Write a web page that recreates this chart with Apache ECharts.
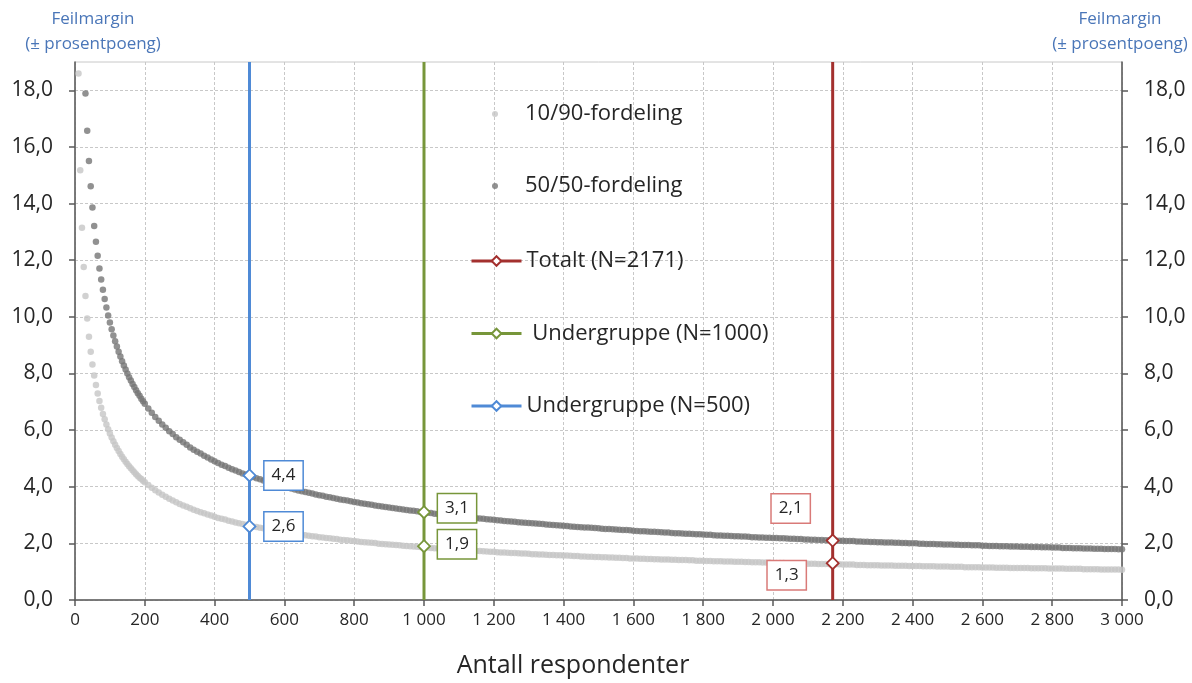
<!DOCTYPE html>
<html><head><meta charset="utf-8">
<script src="https://cdn.jsdelivr.net/npm/echarts@6/dist/echarts.min.js"></script>
<style>html,body{margin:0;padding:0;background:#fff}#c{width:1192px;height:683px}</style>
</head><body><div id="c"></div>
<script>
// Number of respondents grid: small n (5..200 step 5), large n (210..3000 step 10)
const smallStart = 5, smallStep = 5;
const largeStart = 210, largeStep = 10;

// 10/90-fordeling, margin of error (percentage points)
const tenNinetySmall = [26.30,18.59,15.18,13.15,11.76,10.74,9.94,9.30,8.77,8.32,7.93,7.59,7.29,7.03,6.79,6.57,6.38,6.20,6.03,5.88,
5.74,5.61,5.48,5.37,5.26,5.16,5.06,4.97,4.88,4.80,4.72,4.65,4.58,4.51,4.44,4.38,4.32,4.27,4.21,4.16];
const tenNinetyLarge = [
4.06,3.96,3.88,3.80,3.72,3.65,3.58,3.51,3.45,3.39,
3.34,3.29,3.24,3.19,3.14,3.10,3.06,3.02,2.98,2.94,
2.90,2.87,2.84,2.80,2.77,2.74,2.71,2.68,2.66,2.63,
2.60,2.58,2.55,2.53,2.51,2.48,2.46,2.44,2.42,2.40,
2.38,2.36,2.34,2.32,2.31,2.29,2.27,2.25,2.24,2.22,
2.21,2.19,2.18,2.16,2.15,2.13,2.12,2.11,2.09,2.08,
2.07,2.05,2.04,2.03,2.02,2.01,1.99,1.98,1.97,1.96,
1.95,1.94,1.93,1.92,1.91,1.90,1.89,1.88,1.87,1.86,
1.85,1.84,1.83,1.82,1.81,1.81,1.80,1.79,1.78,1.77,
1.76,1.76,1.75,1.74,1.73,1.73,1.72,1.71,1.70,1.70,
1.69,1.68,1.68,1.67,1.66,1.66,1.65,1.64,1.64,1.63,
1.62,1.62,1.61,1.61,1.60,1.59,1.59,1.58,1.58,1.57,
1.57,1.56,1.55,1.55,1.54,1.54,1.53,1.53,1.52,1.52,
1.51,1.51,1.50,1.50,1.49,1.49,1.48,1.48,1.47,1.47,
1.47,1.46,1.46,1.45,1.45,1.44,1.44,1.43,1.43,1.43,
1.42,1.42,1.41,1.41,1.41,1.40,1.40,1.39,1.39,1.39,
1.38,1.38,1.37,1.37,1.37,1.36,1.36,1.36,1.35,1.35,
1.35,1.34,1.34,1.33,1.33,1.33,1.32,1.32,1.32,1.31,
1.31,1.31,1.31,1.30,1.30,1.30,1.29,1.29,1.29,1.28,
1.28,1.28,1.27,1.27,1.27,1.27,1.26,1.26,1.26,1.25,
1.25,1.25,1.25,1.24,1.24,1.24,1.23,1.23,1.23,1.23,
1.22,1.22,1.22,1.22,1.21,1.21,1.21,1.21,1.20,1.20,
1.20,1.20,1.19,1.19,1.19,1.19,1.18,1.18,1.18,1.18,
1.17,1.17,1.17,1.17,1.16,1.16,1.16,1.16,1.16,1.15,
1.15,1.15,1.15,1.14,1.14,1.14,1.14,1.13,1.13,1.13,
1.13,1.13,1.13,1.12,1.12,1.12,1.12,1.12,1.11,1.11,
1.11,1.11,1.11,1.10,1.10,1.10,1.10,1.10,1.09,1.09,
1.09,1.09,1.09,1.08,1.08,1.08,1.08,1.08,1.08,1.07];

// 50/50-fordeling, margin of error (percentage points)
const fiftyFiftySmall = [43.83,30.99,25.30,21.91,19.60,17.89,16.57,15.50,14.61,13.86,13.21,12.65,12.16,11.71,11.32,10.96,10.63,10.33,10.05,9.80,
9.56,9.34,9.14,8.95,8.77,8.60,8.43,8.28,8.14,8.00,7.87,7.75,7.63,7.52,7.41,7.30,7.21,7.11,7.02,6.93];
const fiftyFiftyLarge = [
6.76,6.61,6.46,6.33,6.20,6.08,5.96,5.86,5.75,5.66,
5.57,5.48,5.39,5.31,5.24,5.17,5.09,5.03,4.96,4.90,
4.84,4.78,4.73,4.67,4.62,4.57,4.52,4.47,4.43,4.38,
4.34,4.30,4.26,4.22,4.18,4.14,4.10,4.07,4.03,4.00,
3.97,3.94,3.90,3.87,3.84,3.81,3.79,3.76,3.73,3.70,
3.68,3.65,3.63,3.60,3.58,3.55,3.53,3.51,3.49,3.46,
3.44,3.42,3.40,3.38,3.36,3.34,3.32,3.30,3.28,3.27,
3.25,3.23,3.21,3.20,3.18,3.16,3.15,3.13,3.11,3.10,
3.08,3.07,3.05,3.04,3.02,3.01,3.00,2.98,2.97,2.95,
2.94,2.93,2.92,2.90,2.89,2.88,2.87,2.85,2.84,2.83,
2.82,2.81,2.79,2.78,2.77,2.76,2.75,2.74,2.73,2.72,
2.71,2.70,2.69,2.68,2.67,2.66,2.65,2.64,2.63,2.62,
2.61,2.60,2.59,2.58,2.57,2.56,2.56,2.55,2.54,2.53,
2.52,2.51,2.51,2.50,2.49,2.48,2.47,2.47,2.46,2.45,
2.44,2.43,2.43,2.42,2.41,2.41,2.40,2.39,2.38,2.38,
2.37,2.36,2.36,2.35,2.34,2.34,2.33,2.32,2.32,2.31,
2.30,2.30,2.29,2.28,2.28,2.27,2.27,2.26,2.25,2.25,
2.24,2.24,2.23,2.22,2.22,2.21,2.21,2.20,2.20,2.19,
2.19,2.18,2.18,2.17,2.16,2.16,2.15,2.15,2.14,2.14,
2.13,2.13,2.12,2.12,2.11,2.11,2.10,2.10,2.09,2.09,
2.08,2.08,2.08,2.07,2.07,2.06,2.06,2.05,2.05,2.04,
2.04,2.03,2.03,2.03,2.02,2.02,2.01,2.01,2.00,2.00,
2.00,1.99,1.99,1.98,1.98,1.98,1.97,1.97,1.96,1.96,
1.96,1.95,1.95,1.94,1.94,1.94,1.93,1.93,1.93,1.92,
1.92,1.91,1.91,1.91,1.90,1.90,1.90,1.89,1.89,1.89,
1.88,1.88,1.88,1.87,1.87,1.87,1.86,1.86,1.86,1.85,
1.85,1.85,1.84,1.84,1.84,1.83,1.83,1.83,1.82,1.82,
1.82,1.81,1.81,1.81,1.80,1.80,1.80,1.80,1.79,1.79];

// Reference groups
const groupNames = ['Totalt (N=2171)', 'Undergruppe (N=1000)', 'Undergruppe (N=500)'];
const groupN = [2171, 1000, 500];
const groupMargin5050 = [2.1, 3.1, 4.4];
const groupMargin1090 = [1.3, 1.9, 2.6];

// Axis ticks
const yTicks = [0, 2, 4, 6, 8, 10, 12, 14, 16, 18];
const yMax = 19;
const xMax = 3000;
const xInterval = 200;

// ---------- build ----------
const toPts = (vals, start, step) => vals.map((v, i) => [start + i * step, v]);
const tenNinety = toPts(tenNinetySmall, smallStart, smallStep).concat(toPts(tenNinetyLarge, largeStart, largeStep));
const fiftyFifty = toPts(fiftyFiftySmall, smallStart, smallStep).concat(toPts(fiftyFiftyLarge, largeStart, largeStep));

const FONT = '"Open Sans", sans-serif';
const TXT = '#262626';
const fmtNo = v => Number(v).toFixed(1).replace('.', ',');
const fmtX = v => v >= 1000 ? Math.floor(v / 1000) + ' ' + String(v % 1000).padStart(3, '0') : String(v);

const groupColors = ['#a3302e', '#77963a', '#4f8ad6'];
const labelBorders = ['#d97a78', '#77963a', '#4f8ad6'];
// label offsets [5050 label, 1090 label]
const labelOffsets = [[[-42, -32], [-46, 12]], [[33, -4], [33, -2]], [[34, 0], [34, 0]]];

const groupSeries = groupNames.map((name, g) => {
  const mkLabel = (off) => ({
    show: true, position: 'inside', offset: off,
    formatter: p => fmtNo(p.value[1]),
    color: TXT, fontSize: 17, fontFamily: FONT,
    backgroundColor: '#fff', borderColor: labelBorders[g], borderWidth: 1.5,
    padding: [6, 7, 5, 7]
  });
  return {
    name, type: 'line', z: 4,
    symbol: 'diamond', symbolSize: 12, showSymbol: true,
    itemStyle: { color: '#fff', borderColor: groupColors[g], borderWidth: 1.8 },
    lineStyle: { color: groupColors[g], width: 3 },
    emphasis: { disabled: true },
    data: [
      { value: [groupN[g], 0], symbol: 'none' },
      { value: [groupN[g], groupMargin1090[g]], label: mkLabel(labelOffsets[g][1]) },
      { value: [groupN[g], groupMargin5050[g]], label: mkLabel(labelOffsets[g][0]) },
      { value: [groupN[g], yMax], symbol: 'none' }
    ]
  };
});

const yAxisBase = {
  type: 'value', min: 0, max: yMax,
  axisLine: { show: true, lineStyle: { color: '#595959', width: 1.5 } },
  axisTick: { show: true, length: 6, customValues: yTicks, lineStyle: { color: '#595959', width: 1.5 } },
  axisLabel: { customValues: yTicks, formatter: fmtNo, color: TXT, fontSize: 21, fontFamily: FONT, margin: 22 }
};

const titleStyle = { textAlign: 'center', font: '17px ' + FONT, fill: '#4a76b8', lineHeight: 25 };

const option = {
  animation: false,
  grid: { left: 75, right: 70, top: 62, bottom: 83, show: true, borderColor: '#c8c8c8', borderWidth: 1 },
  graphic: [
    { type: 'text', x: 93, y: 7, style: Object.assign({ text: 'Feilmargin\n(± prosentpoeng)' }, titleStyle) },
    { type: 'text', x: 1120, y: 7, style: Object.assign({ text: 'Feilmargin\n(± prosentpoeng)' }, titleStyle) },
    { type: 'text', x: 573, y: 653, style: { text: 'Antall respondenter', textAlign: 'center', font: '25px ' + FONT, fill: TXT } }
  ],
  legend: [
    {
      data: ['10/90-fordeling', '50/50-fordeling'],
      orient: 'vertical', left: 492, top: 102, padding: 0, itemWidth: 50, itemHeight: 6, itemGap: 48,
      textStyle: { color: TXT, fontSize: 22, fontFamily: FONT, lineHeight: 24 },
      selectedMode: false
    },
    {
      data: groupNames,
      orient: 'vertical', left: 470, top: 249, padding: 0, itemWidth: 50, itemHeight: 12, itemGap: 48.5,
      lineStyle: { width: 3 },
      formatter: n => n === 'Undergruppe (N=1000)' ? ' ' + n : n,
      textStyle: { color: TXT, fontSize: 22, fontFamily: FONT, lineHeight: 24 },
      selectedMode: false
    }
  ],
  xAxis: {
    type: 'value', min: 0, max: xMax, interval: xInterval,
    axisLine: { lineStyle: { color: '#595959', width: 1.5 } },
    axisTick: { show: true, length: 6, lineStyle: { color: '#595959', width: 1.5 } },
    axisLabel: { formatter: fmtX, color: TXT, fontSize: 17, fontFamily: FONT, margin: 12 },
    splitLine: { show: true, lineStyle: { color: '#c8c8c8', type: [3, 2], width: 1 } }
  },
  yAxis: [
    Object.assign({}, yAxisBase, { position: 'left',
      splitLine: { show: true, lineStyle: { color: '#c8c8c8', type: [3, 2], width: 1 } } }),
    Object.assign({}, yAxisBase, { position: 'right', splitLine: { show: false } })
  ],
  series: [
    { name: '10/90-fordeling', type: 'scatter', z: 2, symbolSize: 6.5, clip: true,
      itemStyle: { color: '#c6c6c6' }, emphasis: { disabled: true }, data: tenNinety },
    { name: '50/50-fordeling', type: 'scatter', z: 2, symbolSize: 6.5, clip: true,
      itemStyle: { color: '#757575' }, emphasis: { disabled: true }, data: fiftyFifty }
  ].concat(groupSeries)
};

const chart = echarts.init(document.getElementById('c'), null, { renderer: 'canvas' });
chart.setOption(option);
</script>
</body></html>
